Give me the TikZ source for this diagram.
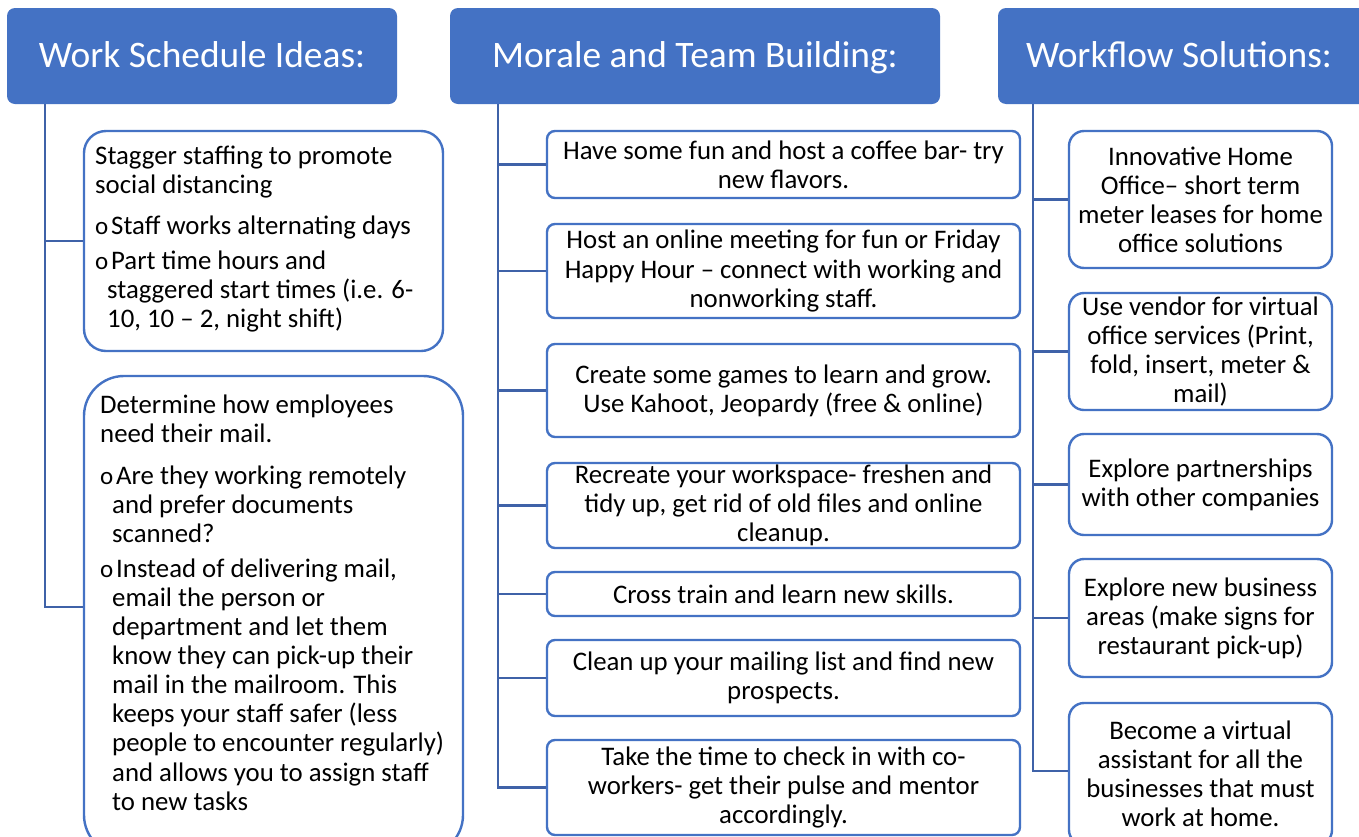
\documentclass[tikz,border=0pt]{standalone}
\usepackage{fontspec}
\setmainfont{Carlito}
\definecolor{hdrblue}{HTML}{4472C4}
\definecolor{boxblue}{HTML}{4472C4}
\definecolor{lineblue}{HTML}{3F62A8}
\newcommand{\bodyfnt}{\fontsize{26.8}{29.1}\selectfont}
\newcommand{\titlefnt}{\fontsize{37.4}{42}\selectfont}
\newcommand{\bul}[1]{\makebox[#1][l]{\fontsize{25}{25}\selectfont o}}
\begin{document}
\begin{tikzpicture}[x=1pt,y=-1pt]
\tikzset{
  hdr/.style={fill=hdrblue, rounded corners=8pt, inner sep=0pt},
  hdrtxt/.style={text=white, font=\titlefnt, inner sep=0pt, text height=26pt, text depth=4pt},
  ibox/.style={draw=boxblue, line width=2.4pt, fill=white, inner sep=0pt, align=center, font=\bodyfnt},
  itxt/.style={font=\bodyfnt, align=left, inner sep=0pt, anchor=north west},
  conn/.style={draw=lineblue, line width=2.6pt},
}
\useasboundingbox (0,0) rectangle (1359,836);
\fill[white] (0,0) rectangle (1359,836);

% headers
\node[hdr, minimum width=390pt, minimum height=96pt] (h1) at (202,56) {};
\node[hdrtxt] (h1t) at (h1.center) {Work Schedule Ideas:};
\node[hdr, minimum width=490pt, minimum height=96pt] (h2) at (695,56) {};
\node[hdrtxt] (h2t) at (h2.center) {Morale and Team Building:};
\node[hdr, minimum width=390pt, minimum height=96pt] (h3) at (1193,56) {};
\node[hdrtxt] (h3t) at (1179,56) {Workflow Solutions:};

% trunk coordinates
\coordinate (t1) at (45,104);
\coordinate (t2) at (498,104);
\coordinate (t3) at (1033,104);

% column 1
\node[ibox, rounded corners=22pt, minimum width=359pt, minimum height=220pt] (a1) at (263.5,241) {};
\node[itxt] (a1t) at (95,146)
{Stagger staffing to promote\\
social distancing\\[12pt]
\bul{16pt}Staff works alternating days\\[5pt]
\bul{16pt}Part time hours and\\
\hspace*{12pt}staggered start times (i.e. 6-\\
\hspace*{12pt}10, 10 – 2, night shift)};

\node[ibox, rounded corners=40pt, minimum width=379pt, minimum height=479pt] (a2) at (273.5,615.5) {};
\node[itxt] (a2t) at (100,395)
{Determine how employees\\
need their mail.\\[12pt]
\bul{16pt}Are they working remotely\\
\hspace*{12pt}and prefer documents\\
\hspace*{12pt}scanned?\\[6pt]
\bul{16pt}Instead of delivering mail,\\
\hspace*{12pt}email the person or\\
\hspace*{12pt}department and let them\\
\hspace*{12pt}know they can pick-up their\\
\hspace*{12pt}mail in the mailroom. This\\
\hspace*{12pt}keeps your staff safer (less\\
\hspace*{12pt}people to encounter regularly)\\
\hspace*{12pt}and allows you to assign staff\\
\hspace*{12pt}to new tasks};

% column 2
\node[ibox, rounded corners=8pt, minimum width=473pt, minimum height=67pt] (b1) at (783.5,164.5)
{Have some fun and host a coffee bar- try\\ new flavors.};
\node[ibox, rounded corners=8pt, minimum width=473pt, minimum height=94pt] (b2) at (783.5,271)
{Host an online meeting for fun or Friday\\ Happy Hour – connect with working and\\ nonworking staff.};
\node[ibox, rounded corners=8pt, minimum width=473pt, minimum height=93pt] (b3) at (783.5,390.5)
{Create some games to learn and grow.\\ Use Kahoot, Jeopardy (free \& online)};
\node[ibox, rounded corners=8pt, minimum width=473pt, minimum height=85pt] (b4) at (783.5,505.5)
{Recreate your workspace- freshen and\\ tidy up, get rid of old files and online\\ cleanup.};
\node[ibox, rounded corners=8pt, minimum width=473pt, minimum height=44pt] (b5) at (783.5,594)
{Cross train and learn new skills.};
\node[ibox, rounded corners=8pt, minimum width=473pt, minimum height=76pt] (b6) at (783.5,678)
{Clean up your mailing list and find new\\ prospects.};
\node[ibox, rounded corners=8pt, minimum width=473pt, minimum height=95pt] (b7) at (783.5,787.5)
{Take the time to check in with co-\\ workers- get their pulse and mentor\\ accordingly.};

% column 3
\node[ibox, rounded corners=15pt, minimum width=263pt, minimum height=137pt] (c1) at (1200.5,199.5)
{Innovative Home\\ Office– short term\\ meter leases for home\\ office solutions};
\node[ibox, rounded corners=15pt, minimum width=263pt, minimum height=117pt] (c2) at (1200.5,351.5)
{Use vendor for virtual\\ office services (Print,\\ fold, insert, meter \&\\ mail)};
\node[ibox, rounded corners=15pt, minimum width=263pt, minimum height=101pt] (c3) at (1200.5,484.5)
{Explore partnerships\\ with other companies};
\node[ibox, rounded corners=15pt, minimum width=263pt, minimum height=118pt] (c4) at (1200.5,618)
{Explore new business\\ areas (make signs for\\ restaurant pick-up)};
\node[ibox, rounded corners=15pt, minimum width=263pt, minimum height=142pt] (c5) at (1200.5,774)
{Become a virtual\\ assistant for all the\\ businesses that must\\ work at home.};

% connectors
\draw[conn] (t1) |- (a1.west);
\draw[conn] (t1) |- ([yshift=8.5pt]a2.west);
\foreach \n in {b1,b2,b3,b4,b5,b6,b7} { \draw[conn] (t2) |- (\n.west); }
\draw[conn] (t3) |- (c1.west);
\draw[conn] (t3) |- (c2.west);
\draw[conn] (t3) |- (c3.west);
\draw[conn] (t3) |- (c4.west);
\draw[conn] (t3) |- ([yshift=3pt]c5.west);
\end{tikzpicture}
\end{document}
